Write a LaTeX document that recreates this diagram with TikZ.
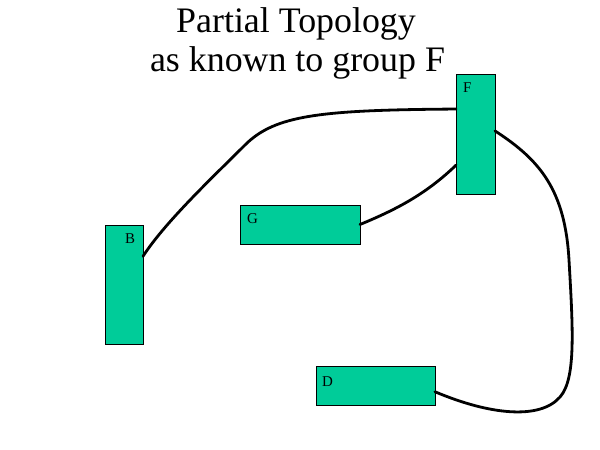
\documentclass[tikz,border=0pt]{standalone}
\usepackage{fontspec}
\setmainfont{Liberation Serif}
\usepackage{tikz}
\definecolor{grpgreen}{RGB}{0,204,153}

\begin{document}
\begin{tikzpicture}[x=1bp,y=-1bp,
    grp/.style={draw=black,fill=grpgreen,line width=0.8bp,inner sep=0pt,outer sep=0pt},
    tag/.style={anchor=base west,inner sep=0pt,font=\fontsize{15}{15}\selectfont},
    link/.style={draw=black,line width=2.8bp,line cap=round}]
      \useasboundingbox (0,0) rectangle (600,450);
      % title
      \node[anchor=base,font=\fontsize{36}{39}\selectfont] (title1) at (296,33) {Partial Topology};
      \node[anchor=base,font=\fontsize{36}{39}\selectfont] (title2) at (297.5,72) {as known to group F};
      % groups
      \node[grp,minimum width=39bp,minimum height=120bp] (F) at (475.5,134) {};
      \node[grp,minimum width=38bp,minimum height=119bp] (B) at (124,284.5) {};
      \node[grp,minimum width=120bp,minimum height=39bp] (G) at (300,224.5) {};
      \node[grp,minimum width=119bp,minimum height=39bp] (D) at (375.5,385.5) {};
      \node[tag] (Ftag) at ([shift={(7,19)}]F.north west) {F};
      \node[tag] (Btag) at ([shift={(20,19)}]B.north west) {B};
      \node[tag] (Gtag) at ([shift={(7,19)}]G.north west) {G};
      \node[tag] (Dtag) at ([shift={(6,20)}]D.north west) {D};
      % links
      \draw[link] (B.56) .. controls (165,222) and (215,175) .. (245,145)
        .. controls (275,115) and (320,110) .. (F.128);
      \draw[link] (G.east) .. controls (395,210) and (425,195) .. (F.238);
      \draw[link] (F.9) .. controls (540,160) and (565,190) .. (569,260)
        .. controls (573,330) and (576,379) .. (560,397)
        .. controls (540,420) and (490,415) .. (D.-6);
    \end{tikzpicture}
\end{document}
